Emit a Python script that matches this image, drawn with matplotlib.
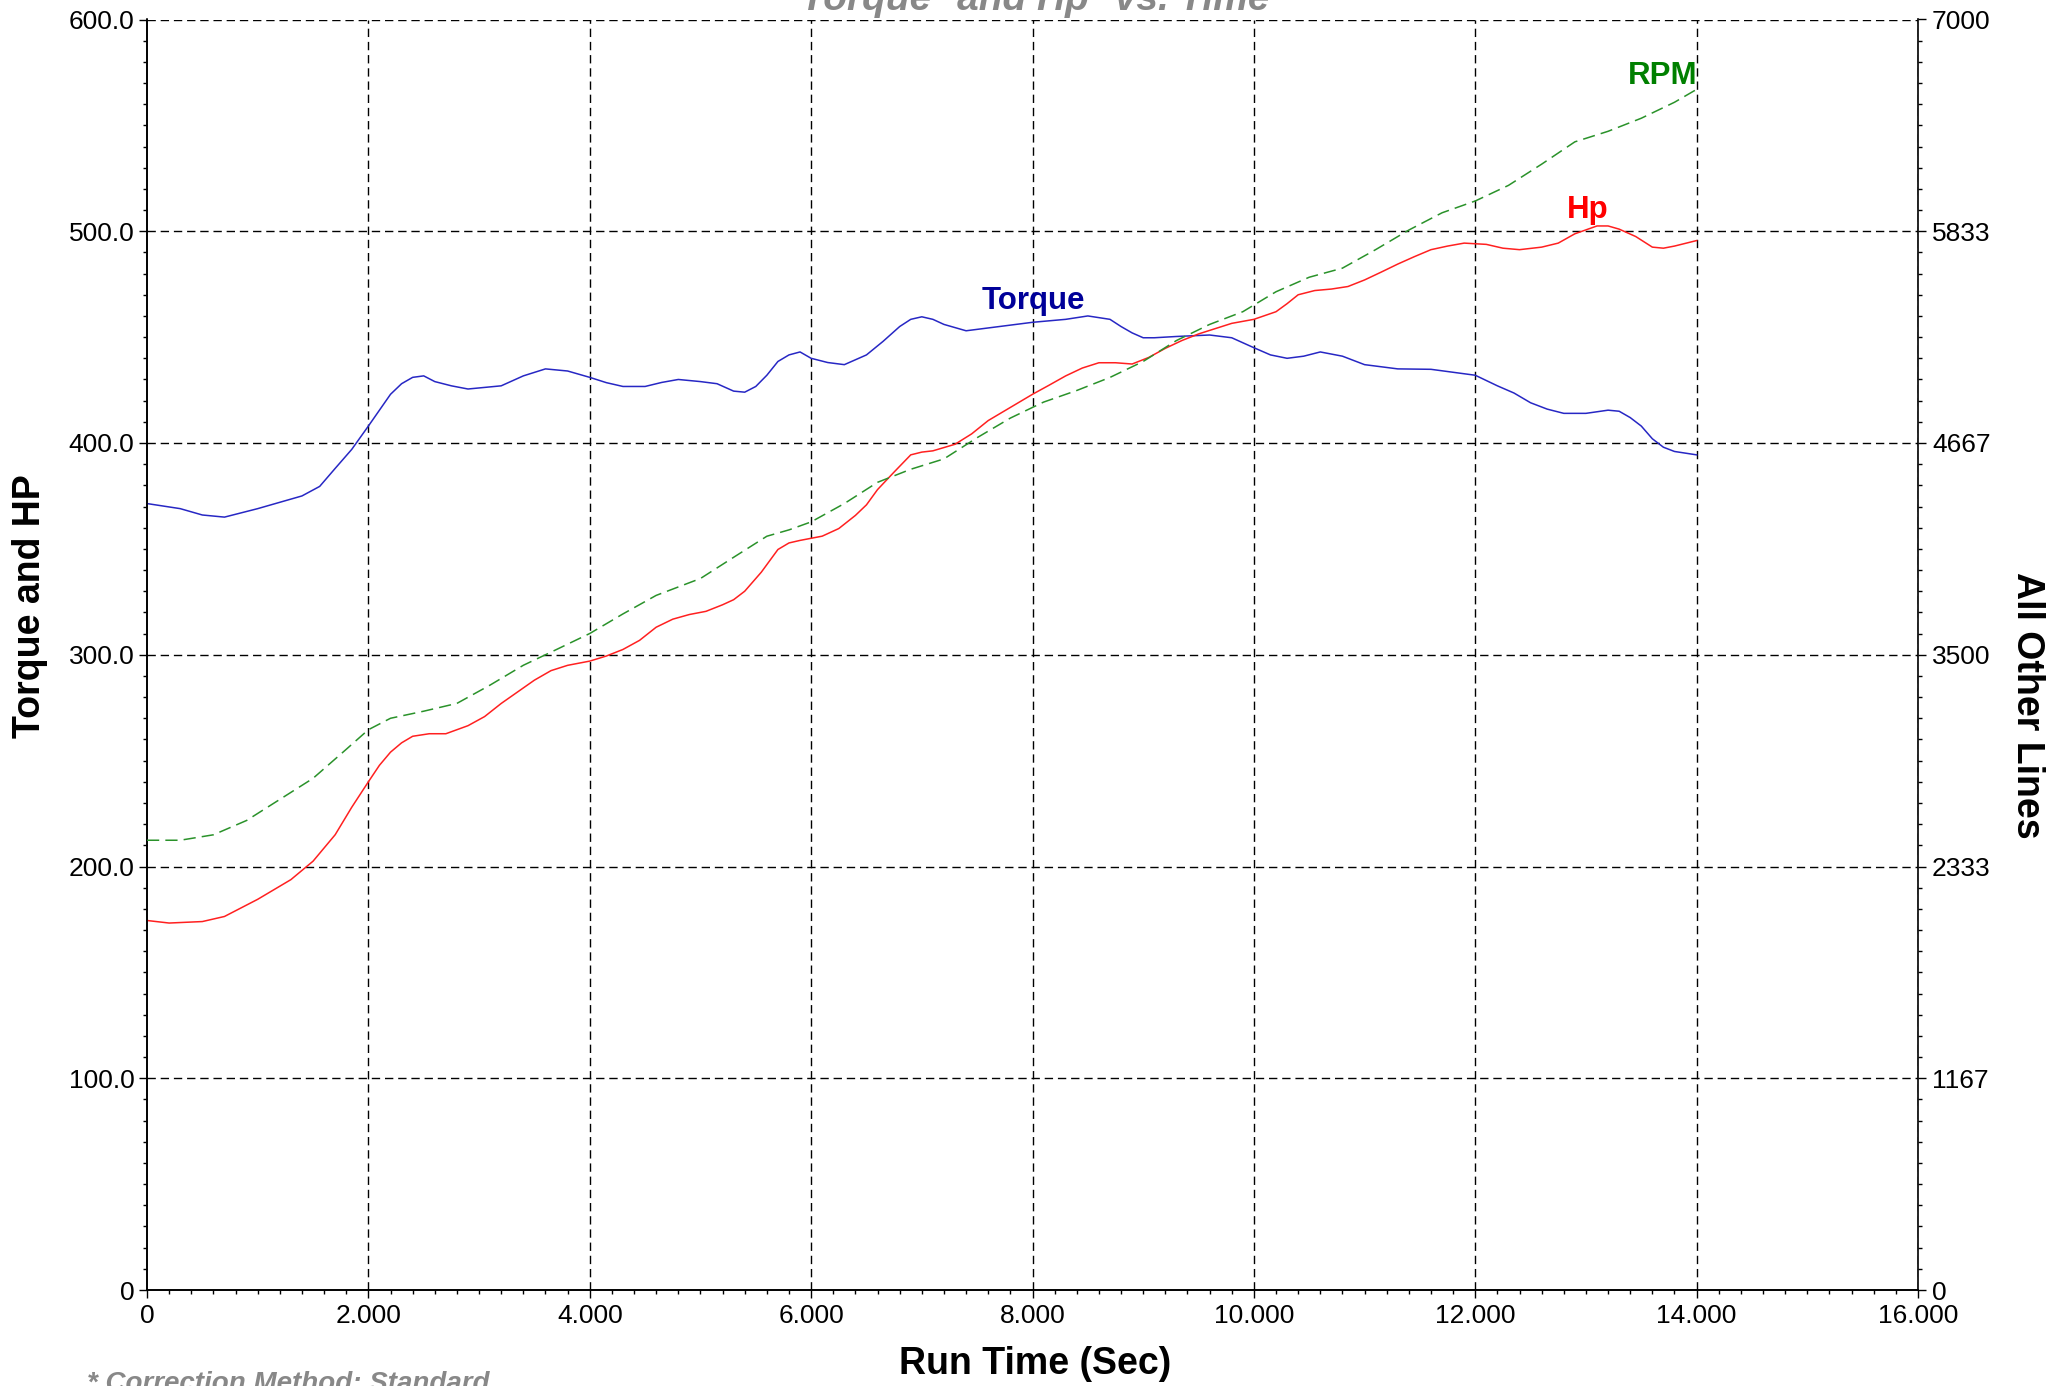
import matplotlib
matplotlib.use("Agg")
import matplotlib.pyplot as plt
from matplotlib.ticker import FixedLocator, MultipleLocator

plt.rcParams['font.family'] = ['Liberation Sans', 'DejaVu Sans']

# ---- data ----
torque_t = [0.0, 0.3, 0.5, 0.7, 1.0, 1.2, 1.4, 1.56, 1.7, 1.85, 2.0, 2.1, 2.2, 2.3, 2.4,
            2.5, 2.6, 2.75, 2.9, 3.2, 3.4, 3.6, 3.8, 4.0, 4.15, 4.3, 4.5, 4.65, 4.8, 5.0,
            5.15, 5.3, 5.4, 5.5, 5.6, 5.7, 5.8, 5.9, 6.0, 6.15, 6.3, 6.5, 6.65, 6.8, 6.9,
            7.0, 7.1, 7.2, 7.4, 7.7, 8.0, 8.3, 8.5, 8.7, 8.8, 8.9, 9.0, 9.1, 9.3, 9.6, 9.8,
            10.0, 10.15, 10.3, 10.45, 10.6, 10.8, 11.0, 11.15, 11.3, 11.6, 12.0, 12.2,
            12.35, 12.5, 12.65, 12.8, 13.0, 13.2, 13.3, 13.4, 13.5, 13.6, 13.7, 13.8, 14.0]
torque = [371.4, 369, 366, 365, 369, 372, 375, 379.5, 388, 397, 408, 415.5, 423, 428, 431,
          431.7, 429, 427, 425.5, 427, 431.7, 435, 434, 431, 428.5, 426.7, 426.7, 428.6, 430, 429,
          428, 424.5, 424, 426.7, 432, 438.5, 441.6, 443, 440, 438, 437, 441.6, 448, 455, 458.4,
          459.6, 458.4, 456, 453, 455, 457, 458.4, 460, 458.4, 455, 452, 449.7, 449.7, 450.3, 451, 449.7,
          445, 441.6, 440, 441, 443, 441, 437, 436, 435, 434.8, 432, 427,
          423.6, 419, 416, 414, 414, 415.5, 415, 412, 408, 402, 398, 396, 394.4]

hp_t = [0.0, 0.2, 0.5, 0.7, 1.0, 1.3, 1.5, 1.7, 1.85, 2.0, 2.1, 2.2, 2.3, 2.4, 2.55, 2.7,
        2.9, 3.05, 3.2, 3.5, 3.65, 3.8, 4.0, 4.15, 4.3, 4.45, 4.6, 4.75, 4.9, 5.05, 5.2,
        5.3, 5.4, 5.55, 5.7, 5.8, 5.9, 6.1, 6.25, 6.4, 6.5, 6.6, 6.75, 6.9, 7.0, 7.1, 7.3,
        7.45, 7.6, 7.8, 8.0, 8.15, 8.3, 8.45, 8.6, 8.75, 8.9, 9.05, 9.2, 9.35, 9.5, 9.65,
        9.8, 10.0, 10.2, 10.3, 10.4, 10.55, 10.7, 10.85, 11.0, 11.15, 11.3, 11.45, 11.6,
        11.75, 11.9, 12.1, 12.25, 12.4, 12.6, 12.75, 12.9, 13.1, 13.2, 13.3, 13.45, 13.6,
        13.7, 13.8, 14.0]
hp = [174.5, 173.3, 174, 176.4, 184.5, 193.8, 202.5, 215, 228, 240, 247.8, 254, 258.4, 261.5,
      262.7, 262.7, 266.5, 270.8, 277, 288, 292.5, 295, 297, 299.4, 302.5, 306.8, 313, 316.8,
      319, 320.5, 323.6, 326, 330, 339, 349.7, 352.8, 354, 356, 359.6, 365.8, 370.8, 378,
      386.3, 394.4, 395.7, 396.3, 399.4, 404.3, 410.6, 416.8, 423, 427.3, 431.7, 435.4,
      437.9, 437.9, 437.3, 440.4, 444.7, 448.4, 451.5, 454, 456.5, 458.4, 462, 465.8, 470,
      472, 472.7, 473.9, 477, 480.7, 484.5, 488, 491.3, 493, 494.4, 493.8, 492, 491.3,
      492.5, 494.4, 498.8, 502.5, 502.5, 501, 497.5, 492.5, 492, 493, 495.6]

rpm_t = [0.0, 0.3, 0.6, 0.9, 1.2, 1.5, 1.8, 2.0, 2.2, 2.5, 2.8, 3.1, 3.4, 3.7, 4.0, 4.3,
         4.6, 5.0, 5.3, 5.6, 5.8, 6.0, 6.3, 6.6, 6.9, 7.2, 7.5, 7.8, 8.1, 8.4, 8.7, 9.0,
         9.3, 9.6, 9.9, 10.2, 10.5, 10.8, 11.1, 11.4, 11.7, 12.0, 12.3, 12.6, 12.9, 13.2,
         13.5, 13.8, 14.0]
rpm = [2478, 2478, 2508, 2587, 2703, 2819, 2979, 3087, 3150, 3189, 3232, 3333, 3442, 3529,
       3617, 3725, 3827, 3920, 4037, 4153, 4188, 4232, 4333, 4450, 4522, 4579, 4696, 4804,
       4892, 4956, 5028, 5116, 5231, 5320, 5390, 5500, 5580, 5630, 5732, 5840, 5935, 6000,
       6086, 6203, 6326, 6384, 6456, 6544, 6615]

x_ticks = [0, 2, 4, 6, 8, 10, 12, 14, 16]
x_labels = ["0", "2.000", "4.000", "6.000", "8.000", "10.000", "12.000", "14.000", "16.000"]
left_ticks = [0, 100, 200, 300, 400, 500, 600]
left_labels = ["0", "100.0", "200.0", "300.0", "400.0", "500.0", "600.0"]
right_ticks = [0, 7000 / 6, 2 * 7000 / 6, 3 * 7000 / 6, 4 * 7000 / 6, 5 * 7000 / 6, 7000]
right_labels = ["0", "1167", "2333", "3500", "4667", "5833", "7000"]

# ---- figure ----
W, H = 2063, 1386
fig = plt.figure(figsize=(W / 100, H / 100), dpi=100)
ax = fig.add_axes([147 / W, 1 - 1290 / H, (1918 - 147) / W, (1290 - 19.5) / H])

ax.set_xlim(0, 16)
ax.set_ylim(0, 600)

grid_kw = dict(color='black', lw=1.0, linestyle=(0, (6, 3.5)), zorder=1)
for xv in x_ticks[1:]:
    ax.axvline(xv, **grid_kw)
for yv in left_ticks[1:]:
    ax.axhline(yv, **grid_kw)

ax.plot(torque_t, torque, color='#2727c4', lw=1.1, zorder=3, solid_joinstyle='round')
ax.plot(hp_t, hp, color='#ff2020', lw=1.1, zorder=3, solid_joinstyle='round')

ax2 = ax.twinx()
ax2.set_ylim(0, 7000)
ax2.plot(rpm_t, rpm, color='#2a922a', lw=1.1, linestyle=(0, (8, 4)), zorder=3)

# ticks
ax.xaxis.set_major_locator(FixedLocator(x_ticks))
ax.set_xticklabels(x_labels)
ax.xaxis.set_minor_locator(MultipleLocator(0.2))
ax.yaxis.set_major_locator(FixedLocator(left_ticks))
ax.set_yticklabels(left_labels)
ax.yaxis.set_minor_locator(MultipleLocator(10))
ax2.yaxis.set_major_locator(FixedLocator(right_ticks))
ax2.set_yticklabels(right_labels)
ax2.yaxis.set_minor_locator(MultipleLocator(7000 / 60))

for a in (ax, ax2):
    a.tick_params(which='major', length=6, width=1.0, direction='out', labelsize=19,
                  colors='black')
    a.tick_params(which='minor', length=3, width=1.0, direction='out')
    for s in a.spines.values():
        s.set_linewidth(1.2)
    a.spines['top'].set_visible(False)
ax.tick_params(axis='x', pad=4)
ax.tick_params(axis='y', pad=3)
ax2.tick_params(axis='y', pad=4)
ax.spines['right'].set_visible(False)

# in-plot labels
lab_kw = dict(fontsize=22.5, fontweight='bold', ha='center', va='baseline', zorder=5)
ax.text(8.01, 463.2, "Torque", color='#000099', **lab_kw)
ax.text(13.02, 506.1, "Hp", color='#ff0000', **lab_kw)
ax.text(13.69, 569.4, "RPM", color='#008000', **lab_kw)

# axis titles
fig.text(1035 / W, 1 - 1364 / H, "Run Time (Sec)", fontsize=27, fontweight='bold',
         ha='center', va='center')
fig.text(30 / W, 1 - 606 / H, "Torque and HP", fontsize=27, fontweight='bold',
         rotation=90, ha='center', va='center')
fig.text(2027 / W, 1 - 705 / H, "All Other Lines", fontsize=27, fontweight='bold',
         rotation=270, ha='center', va='center')

# title (partly cut off) and footnote
fig.text(1035 / W, 1 - 10 / H, "Torque* and Hp* vs. Time", fontsize=28,
         fontweight='bold', fontstyle='italic', color='#888888', ha='center', va='baseline')
fig.text(87 / W, 1 - 1391 / H, "* Correction Method: Standard", fontsize=20,
         fontweight='bold', fontstyle='italic', color='#888888', ha='left', va='baseline')

fig.savefig("out.png", dpi=100)
